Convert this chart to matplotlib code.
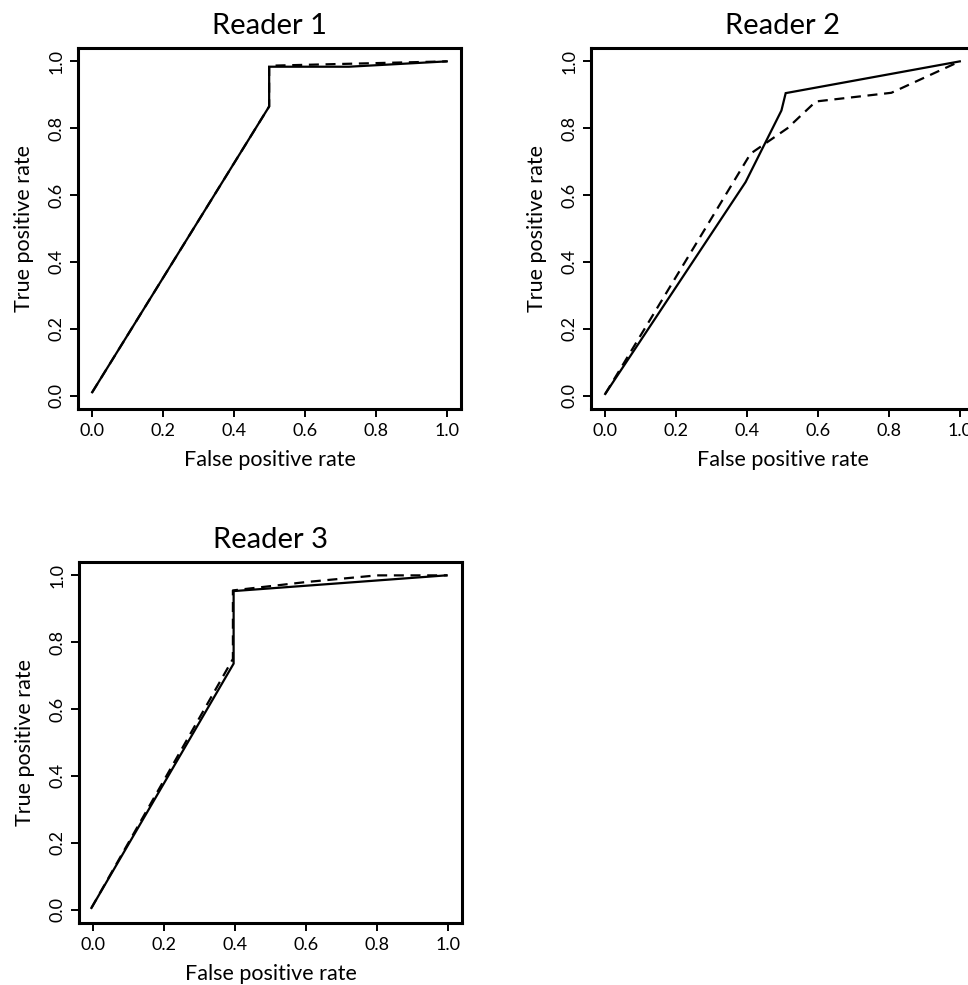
import numpy as np
import matplotlib.pyplot as plt

plt.rcParams['font.family'] = ['Lato', 'DejaVu Sans']

# ROC points (false positive rate, true positive rate)
r1_fpr_solid = [0.0, 0.499, 0.499, 0.724, 1.0]
r1_tpr_solid = [0.01, 0.865, 0.984, 0.984, 1.0]
r1_fpr_dash = [0.0, 0.499, 0.499, 1.0]
r1_tpr_dash = [0.01, 0.865, 0.987, 1.0]

r2_fpr_solid = [0.0, 0.396, 0.497, 0.509, 1.0]
r2_tpr_solid = [0.005, 0.639, 0.853, 0.905, 1.0]
r2_fpr_dash = [0.0, 0.41, 0.514, 0.594, 0.807, 1.0]
r2_tpr_dash = [0.005, 0.724, 0.80, 0.88, 0.906, 1.0]

r3_fpr_solid = [-0.005, 0.396, 0.396, 0.995]
r3_tpr_solid = [0.005, 0.736, 0.953, 1.0]
r3_fpr_dash = [-0.005, 0.394, 0.394, 0.6, 0.8, 1.0]
r3_tpr_dash = [0.005, 0.75, 0.955, 0.98, 1.0, 1.0]

titles = ['Reader 1', 'Reader 2', 'Reader 3']
ticks = [0.0, 0.2, 0.4, 0.6, 0.8, 1.0]
tick_labels = ['0.0', '0.2', '0.4', '0.6', '0.8', '1.0']

fig = plt.figure(figsize=(9.68, 9.85), dpi=100)
W, H = 968, 985
boxes = [(78, 48), (591, 48), (79, 562)]
bw, bh = 383, 361

curves = [
    (r1_fpr_solid, r1_tpr_solid, r1_fpr_dash, r1_tpr_dash),
    (r2_fpr_solid, r2_tpr_solid, r2_fpr_dash, r2_tpr_dash),
    (r3_fpr_solid, r3_tpr_solid, r3_fpr_dash, r3_tpr_dash),
]

for (left, top), title, (xs, ys, xd, yd) in zip(boxes, titles, curves):
    ax = fig.add_axes([left / W, 1 - (top + bh) / H, bw / W, bh / H])
    ax.plot(xs, ys, color='black', lw=1.6, solid_joinstyle='miter')
    ax.plot(xd, yd, color='black', lw=1.6, dashes=(4.5, 3))
    ax.set_xlim(-0.04, 1.04)
    ax.set_ylim(-0.04, 1.04)
    ax.set_xticks(ticks)
    ax.set_xticklabels(tick_labels)
    ax.set_yticks(ticks)
    ax.set_yticklabels(tick_labels, rotation=90, va='center')
    ax.tick_params(direction='out', length=6, width=1.4, labelsize=13, pad=4)
    for sp in ax.spines.values():
        sp.set_linewidth(2.2)
    ax.set_title(title, fontsize=21, pad=10)
    ax.set_xlabel('False positive rate', fontsize=15.5, labelpad=8)
    ax.set_ylabel('True positive rate', fontsize=15.5, labelpad=10)

fig.savefig('out.png', dpi=100)
